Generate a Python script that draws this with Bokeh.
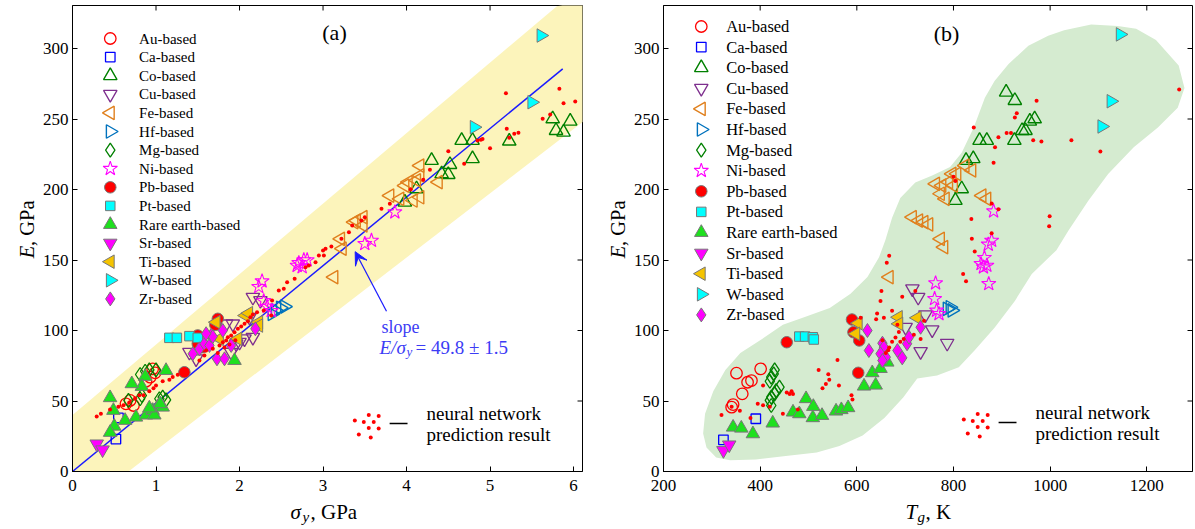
from math import pi
from bokeh.plotting import figure
from bokeh.layouts import row, column
from bokeh.models import Range1d, FixedTicker, Label, Arrow, VeeHead
from bokeh.core.properties import value
from bokeh.embed import file_html
from bokeh.resources import INLINE

SERIF = "Liberation Serif"
BLUE = "#1a1aff"
GRAY = "#777777"

# ---------------- panel (a): yield strength sigma_y (GPa) vs Young's modulus E (GPa)
au_sy = [0.96, 0.93, 0.64, 0.73, 0.69, 0.88, 0.99]
au_E_a = [72.8, 66.9, 48.0, 46.8, 50.4, 64.0, 70.0]
ca_sy = [0.55, 0.52]
ca_E_a = [38, 23]
co_sy = [4.66, 4.79, 4.79, 4.30, 4.52, 4.42, 4.50, 4.12, 3.98, 5.23, 5.75, 5.79, 5.88, 5.96]
co_E_a = [234.8, 234.8, 221.8, 220.6, 217.7, 211.1, 210.6, 200.5, 191, 234.3, 250.1, 241.8, 240.6, 248.4]
cu_sy = [2.16, 2.16, 1.92, 1.96, 2.00, 1.90, 1.40, 1.48, 2.06, 1.84, 2.12, 2.25]
cu_E_a = [123.6, 95.2, 104.7, 90.6, 91.7, 84.6, 84.6, 79.9, 94.1, 104.7, 109.4, 121.3]
fe_sy = [4.16, 4.16, 4.12, 4.02, 3.98, 3.80, 3.92, 4.08, 4.16, 4.38, 3.37, 3.40, 3.48, 3.48, 3.21, 3.23, 3.13]
fe_E_a = [217, 210, 206.4, 205.2, 202.8, 195.7, 193.4, 192.2, 194.5, 205.2, 176.8, 178, 180.4, 174.5, 165, 158, 137.8]
hf_sy = [2.39, 2.43, 2.49, 2.54]
hf_E_a = [111.8, 114.2, 116.1, 117.0]
mg_sy = [0.81, 0.87, 0.92, 1.00, 0.67, 0.81, 0.83, 1.04, 1.08, 1.12]
mg_E_a = [68.8, 71.1, 72.1, 72.1, 50.4, 51.6, 53.9, 51.6, 52.7, 50.8]
ni_sy = [2.27, 2.23, 2.29, 2.33, 2.38, 2.69, 2.71, 2.75, 2.77, 2.81, 3.50, 3.58, 3.86]
ni_E_a = [135, 131, 121, 117, 114, 146, 148, 145, 150, 150, 161.5, 163.8, 183.9]
pb_sy = [1.34, 1.50, 1.50, 1.56, 1.74, 1.71]
pb_E_a = [70.4, 96.5, 90.6, 88.2, 108.3, 104]
pt_sy = [1.16, 1.25, 1.40, 1.50]
pt_E_a = [94.8, 94.8, 96.0, 94.8]
re_sy = [0.45, 0.49, 0.50, 0.45, 0.63, 0.76, 0.88, 0.96, 1.02, 1.08, 1.12, 0.87, 0.83, 0.71, 1.94, 0.98, 1.05, 0.92]
re_E_a = [52.3, 43.3, 32.1, 27.7, 36.2, 38.5, 40, 43.3, 46, 45.6, 71.6, 67.4, 60.3, 62.2, 78.7, 40, 48, 45]
sr_sy = [0.29, 0.36]
sr_E_a = [19.6, 15.4]
ti_sy = [1.72, 1.76, 1.98, 2.07, 2.11, 2.23, 2.23]
ti_E_a = [105.9, 94.1, 94.1, 110.6, 112.3, 105.9, 103.5]
w_sy = [5.61, 5.50, 4.81]
w_E_a = [309.2, 261.9, 244.2]
zr_sy = [1.44, 1.52, 1.58, 1.64, 1.66, 1.73, 1.80, 1.82, 1.90, 2.19, 1.68, 1.60]
zr_E_a = [83.5, 87, 90.6, 89.4, 96.5, 79.9, 100, 79.9, 89.4, 101.2, 95.7, 97.7]
nn_sy = [0.29, 0.34, 0.45, 0.55, 0.61, 0.68, 0.75, 0.80, 0.85, 0.92, 0.97, 1.00, 1.08, 1.16, 1.20, 1.26,
         1.52, 1.58, 1.60, 1.68, 1.74, 1.76, 1.80, 1.82, 1.84, 1.86, 1.88, 1.90, 1.94, 1.95, 1.98, 2.02, 2.06,
         2.10, 2.13, 2.16, 2.21, 2.29, 2.38, 2.39,
         2.47, 2.53, 2.57, 2.66, 2.79, 2.83, 2.91, 2.95, 3.00, 3.01, 3.03, 3.10, 3.22, 3.31, 3.35, 3.46, 3.50,
         3.70, 3.80, 4.05, 4.20, 4.28,
         4.50, 4.69, 4.85, 4.89, 4.91, 5.00, 5.19, 5.20, 5.23, 5.29, 5.34, 5.63, 5.72, 5.83, 5.88, 6.02]
nn_E_a = [39, 41, 44, 46, 47, 49, 52, 54, 54, 57, 59, 61, 64, 65, 67, 68.6,
          78.7, 82.3, 85.8, 87, 84, 89.4, 91.7, 88, 92.9, 95.2, 90, 96.5, 98.8, 93, 101.2, 102.8, 104.7,
          106.6, 109.4, 111.3, 113, 114.2, 110.6, 121.3,
          128.4, 129.6, 134.3, 136.7, 144.9, 146.1, 148.4, 153.2, 156.7, 153.2, 157.9, 159.6, 165, 169.7, 174.5,
          178, 180.4, 186.3, 189.9, 200, 207, 214,
          227.2, 218.2, 234.8, 235.2, 235.9, 229.3, 268.3, 243, 236.7, 239.5, 240.2, 250.1, 253.2, 271.4, 261.2, 262.4]
band_sy = [0, 0, 5.80, 6.2, 6.2, 0.67]
band_E = [0, 40, 330, 335, 252, 0]
fit_sy = [0, 5.87]
fit_E = [0, 285.6]

# ---------------- panel (b): glass transition temperature Tg (K) vs E (GPa)
au_tg = [351, 401, 374, 382, 363, 344, 341]
au_E_b = [69.7, 72.8, 63.3, 64.5, 55.1, 47.5, 45.6]
ca_tg = [391, 324]
ca_E_b = [37.4, 22.5]
co_tg = [909, 927, 958, 968, 942, 949, 926, 854, 869, 826, 841, 804, 817]
co_E_b = [269, 263.1, 248.4, 250.1, 241.8, 241.8, 234.8, 234.8, 234.8, 220.6, 221.8, 192.2, 200.5]
cu_tg = [715, 727, 742, 756, 787, 732, 701]
cu_E_b = [129.6, 123.6, 111.1, 100.5, 91, 85.1, 102.3]
fe_tg = [715, 728, 739, 749, 773, 780, 763, 776, 790, 797, 807, 824, 838, 773, 783, 859, 869, 800, 667]
fe_E_b = [180.4, 178, 176.8, 175.2, 165, 159.1, 204, 202.8, 205.2, 211.1, 211.1, 217, 213.5, 197, 193.4,
          195.7, 193.4, 202.8, 137.8]
hf_tg = [787, 793, 797]
hf_E_b = [115.4, 116.5, 114.2]
mg_tg = [430, 428, 423, 420, 440, 433, 423, 420, 430, 423]
mg_E_b = [72.1, 69.3, 66.9, 64, 59.8, 57.4, 52.7, 50.4, 55.1, 46.8]
ni_tg = [883, 879, 872, 864, 857, 869, 862, 873, 763, 761, 765, 770]
ni_E_b = [184.6, 163.8, 161, 151.6, 147.3, 146.1, 144.9, 133.1, 133.6, 122.5, 114.2, 111.8]
pb_tg = [455, 590, 593, 605, 603]
pb_E_b = [91.7, 107.8, 98.8, 92.9, 70]
pt_tg = [481, 493, 509, 511]
pt_E_b = [95.7, 95.7, 95.2, 93.6]
re_tg = [344, 361, 385, 426, 468, 481, 495, 510, 509, 528, 557, 568, 582, 615, 639, 632, 649, 663]
re_E_b = [31.4, 30.7, 26.7, 34.3, 42.1, 40.9, 51.6, 46.1, 38.1, 39.7, 42.8, 43.8, 45.2, 60.5, 61.2, 70, 73, 77.5]
sr_tg = [324, 336]
sr_E_b = [14.9, 18.9]
ti_tg = [603, 598, 686, 687, 725]
ti_E_b = [105.2, 97.7, 109.4, 104.7, 109]
w_tg = [1145, 1126, 1107]
w_E_b = [310, 262.6, 244.7]
zr_tg = [622, 625, 653, 656, 649, 660, 653, 684, 694, 704, 708, 732]
zr_E_b = [100, 85.8, 91, 88.2, 83.5, 81.1, 78.7, 85.8, 80.6, 90.6, 95.2, 102.3]
nn_tg = [320, 341, 358, 380, 395, 406, 420, 406, 447, 455, 461, 465, 468, 478, 521, 541, 543, 529, 536, 560,
         563, 589, 591,
         608, 640, 642, 649, 651, 656, 660, 665, 667, 673, 680, 687, 684, 653, 690, 697, 673, 694, 718, 721,
         732, 739, 662, 667,
         800, 804, 820, 826, 837, 838, 842, 844, 879, 879, 883, 886, 893, 893, 910, 919, 927, 931, 965, 972,
         982, 998, 999, 1044, 1104, 1267]
nn_E_b = [40, 46, 43, 38, 48, 47, 46, 61, 41, 56, 55, 57, 55, 44, 72, 69, 65, 59, 62, 79, 61, 54, 51,
          109, 108, 112, 121, 128, 109, 84, 86, 88, 92, 95, 99, 104, 93, 92, 94, 114, 124, 97, 128, 94, 107,
          148, 153,
          209, 206, 140, 135, 179, 165, 244, 156, 169, 190, 219, 230, 186, 237, 240, 240, 251, 254, 235, 263,
          234, 174, 181, 235, 227, 271]
region_tg = [1140, 1085, 1029, 996, 955, 914, 885, 865, 842, 817, 793, 756, 721, 690, 673, 659, 646, 622, 587,
             544, 488, 447, 400, 359, 328, 303, 286, 282, 289, 309, 338, 391, 453, 517, 564, 612, 657, 696,
             725, 766, 811, 844, 885, 927, 962, 1013, 1038, 1079, 1120, 1173, 1223, 1264, 1278, 1266, 1219, 1178]
region_E = [316, 317, 313, 309, 302, 289, 277, 265, 244, 226, 216, 210, 205, 194, 180, 164, 152, 138, 126,
            116, 109, 104, 93, 84, 72, 57, 41, 27, 17, 10, 8, 8.5, 11, 13.5, 18, 25.5, 38, 52.5,
            66, 68, 74, 86, 102, 121, 140, 157, 171, 192, 211, 230, 244, 258, 272, 288, 306, 314]

groups = ["Au-based", "Ca-based", "Co-based", "Cu-based", "Fe-based", "Hf-based", "Mg-based", "Ni-based",
          "Pb-based", "Pt-based", "Rare earth-based", "Sr-based", "Ti-based", "W-based", "Zr-based"]
x_ticks_a = [0, 1, 2, 3, 4, 5, 6]
x_ticks_b = [200, 400, 600, 800, 1000, 1200]
y_ticks = [0, 50, 100, 150, 200, 250, 300]

data_a = {
    "Au-based": (au_sy, au_E_a), "Ca-based": (ca_sy, ca_E_a), "Co-based": (co_sy, co_E_a),
    "Cu-based": (cu_sy, cu_E_a), "Fe-based": (fe_sy, fe_E_a), "Hf-based": (hf_sy, hf_E_a),
    "Mg-based": (mg_sy, mg_E_a), "Ni-based": (ni_sy, ni_E_a), "Pb-based": (pb_sy, pb_E_a),
    "Pt-based": (pt_sy, pt_E_a), "Rare earth-based": (re_sy, re_E_a), "Sr-based": (sr_sy, sr_E_a),
    "Ti-based": (ti_sy, ti_E_a), "W-based": (w_sy, w_E_a), "Zr-based": (zr_sy, zr_E_a),
}
data_b = {
    "Au-based": (au_tg, au_E_b), "Ca-based": (ca_tg, ca_E_b), "Co-based": (co_tg, co_E_b),
    "Cu-based": (cu_tg, cu_E_b), "Fe-based": (fe_tg, fe_E_b), "Hf-based": (hf_tg, hf_E_b),
    "Mg-based": (mg_tg, mg_E_b), "Ni-based": (ni_tg, ni_E_b), "Pb-based": (pb_tg, pb_E_b),
    "Pt-based": (pt_tg, pt_E_b), "Rare earth-based": (re_tg, re_E_b), "Sr-based": (sr_tg, sr_E_b),
    "Ti-based": (ti_tg, ti_E_b), "W-based": (w_tg, w_E_b), "Zr-based": (zr_tg, zr_E_b),
}

STYLE = {
    "Au-based": dict(marker="circle", size=11.5, angle=0, line_color="#ff0000", fill_color=None, line_width=1.3),
    "Ca-based": dict(marker="square", size=9.5, angle=0, line_color="#0000ff", fill_color=None, line_width=1.3),
    "Co-based": dict(marker="triangle", size=13.5, angle=0, line_color="#008000", fill_color=None, line_width=1.4),
    "Cu-based": dict(marker="inverted_triangle", size=13.5, angle=0, line_color="#7e2f8e", fill_color=None, line_width=1.3),
    "Fe-based": dict(marker="triangle", size=13.5, angle=pi / 2, line_color="#e0801e", fill_color=None, line_width=1.4),
    "Hf-based": dict(marker="triangle", size=13.5, angle=-pi / 2, line_color="#0072bd", fill_color=None, line_width=1.4),
    "Mg-based": dict(marker="diamond", size=14, angle=0, line_color="#008000", fill_color=None, line_width=1.3),
    "Ni-based": dict(marker="star", size=15, angle=0, line_color="#ff00ff", fill_color=None, line_width=1.1),
    "Pb-based": dict(marker="circle", size=11.5, angle=0, line_color=GRAY, fill_color="#ff0000", line_width=1),
    "Pt-based": dict(marker="square", size=9.5, angle=0, line_color=GRAY, fill_color="#00ffff", line_width=1),
    "Rare earth-based": dict(marker="triangle", size=13.5, angle=0, line_color=GRAY, fill_color="#1ee01e", line_width=1),
    "Sr-based": dict(marker="inverted_triangle", size=13.5, angle=0, line_color=GRAY, fill_color="#ff00ff", line_width=1),
    "Ti-based": dict(marker="triangle", size=13.5, angle=pi / 2, line_color=GRAY, fill_color="#f5c400", line_width=1),
    "W-based": dict(marker="triangle", size=13.5, angle=-pi / 2, line_color=GRAY, fill_color="#00ffff", line_width=1),
    "Zr-based": dict(marker="diamond", size=14, angle=0, line_color=GRAY, fill_color="#ff00ff", line_width=1),
}

# page geometry (the page is drawn from its top-left corner)
PLOT_H = 498
STRIP_H = 31
FRAME_A = dict(left=69, right=582, top=5, bottom=471, x0=0.0, x1=6.107, y0=0.0, y1=330.5)
FRAME_B = dict(left=660, right=1192, top=5, bottom=471, x0=200.0, x1=1294.6, y0=0.0, y1=330.5)


def to_data(fr, px, py):
    x = fr["x0"] + (px - fr["left"]) / (fr["right"] - fr["left"]) * (fr["x1"] - fr["x0"])
    y = fr["y0"] + (fr["bottom"] - py) / (fr["bottom"] - fr["top"]) * (fr["y1"] - fr["y0"])
    return x, y


def style_axis(ax):
    ax.major_tick_in = 5
    ax.major_tick_out = 0
    ax.minor_tick_in = 0
    ax.minor_tick_out = 0
    ax.axis_line_color = "black"
    ax.major_tick_line_color = "black"
    ax.major_label_text_font = SERIF
    ax.major_label_text_color = "black"
    ax.major_label_text_font_size = "17px"


def make_fig(x_left, fr, xticks):
    width = fr["right"] + (8 if fr is FRAME_A else 3) - x_left
    p = figure(width=width, height=PLOT_H, x_range=Range1d(fr["x0"], fr["x1"]),
               y_range=Range1d(fr["y0"], fr["y1"]), output_backend="svg", toolbar_location=None,
               min_border_left=fr["left"] - x_left, min_border_right=width - (fr["right"] - x_left),
               min_border_top=fr["top"], min_border_bottom=PLOT_H - fr["bottom"])
    p.xgrid.visible = False
    p.ygrid.visible = False
    p.outline_line_color = "black"
    p.outline_line_alpha = 1
    p.background_fill_color = "white"
    p.border_fill_color = "white"
    p.xaxis.ticker = FixedTicker(ticks=xticks)
    p.yaxis.ticker = FixedTicker(ticks=y_ticks)
    style_axis(p.xaxis[0])
    style_axis(p.yaxis[0])
    p.xaxis.major_label_standoff = 8
    p.yaxis.major_label_standoff = 4
    # mirrored inward ticks on the top and right frame edges
    dy = 5 * (fr["y1"] - fr["y0"]) / (fr["bottom"] - fr["top"])
    dx = 5 * (fr["x1"] - fr["x0"]) / (fr["right"] - fr["left"])
    p.segment(x0=xticks, y0=[fr["y1"]] * len(xticks), x1=xticks, y1=[fr["y1"] - dy] * len(xticks),
              line_color="black", line_width=1)
    p.segment(x0=[fr["x1"]] * len(y_ticks), y0=y_ticks, x1=[fr["x1"] - dx] * len(y_ticks), y1=y_ticks,
              line_color="black", line_width=1)
    return p


def make_strip(width, height):
    s = figure(width=width, height=height, x_range=Range1d(0, width), y_range=Range1d(0, height),
               output_backend="svg", toolbar_location=None, x_axis_type=None, y_axis_type=None,
               min_border=0, min_border_left=0, min_border_right=0, min_border_top=0, min_border_bottom=0)
    s.xgrid.visible = False
    s.ygrid.visible = False
    s.outline_line_color = None
    s.background_fill_color = "white"
    s.border_fill_color = "white"
    return s


def strip_text(s, left, top, px, py, text, size, style="normal", angle=0.0):
    s.text([px - left], [s.height - (py - top)], text=[text], text_font=value(SERIF),
           text_font_size=f"{size}px", text_font_style=style, text_baseline="middle",
           text_align="left", angle=angle, text_color="black")


def add_label(p, fr, px, py, text, size, style="normal", align="left", color="black"):
    p.add_layout(Label(x=px - fr["left"], y=fr["bottom"] - py, x_units="screen", y_units="screen",
                       text=text, text_font=SERIF, text_font_size=f"{size}px", text_font_style=style,
                       text_align=align, text_baseline="middle", text_color=color))


def draw_groups(p, data):
    for g in groups:
        xs, ys = data[g]
        p.scatter(xs, ys, **STYLE[g])


def draw_legend(p, fr, mx, tx, y0, dy, fsize):
    for i, g in enumerate(groups):
        py = y0 + i * dy
        x, y = to_data(fr, mx, py)
        p.scatter([x], [y], **STYLE[g])
        xt, yt = to_data(fr, tx, py)
        p.text([xt], [yt], text=[g], text_font=value(SERIF), text_font_size=f"{fsize}px",
               text_baseline="middle", text_align="left", text_color="black")


# legend key for the network predictions: pixel offsets of the dot cluster from the text start
KEY_DX = [-70, -61, -56, -51, -46, -56, -46, -66, -54]
KEY_DY = [7, 8.5, 1.5, 8.5, 2.5, 14.5, 15, 21, 24]


def draw_nn_key(p, fr, tx, ty):
    xs, ys = [], []
    for dx, dy in zip(KEY_DX, KEY_DY):
        x, y = to_data(fr, tx + dx, ty + dy)
        xs.append(x)
        ys.append(y)
    p.scatter(xs, ys, marker="circle", size=4, fill_color="#ff0000", line_color=None)
    xa, ya = to_data(fr, tx - 35, ty + 10)
    xb, yb = to_data(fr, tx - 17, ty + 10)
    p.line([xa, xb], [ya, yb], line_color="black", line_width=1.5)
    add_label(p, fr, tx, ty, "neural network", 19)
    add_label(p, fr, tx, ty + 20.5, "prediction result", 19)


# ---------------- panel (a)
YLAB_A = (0, 39)        # left, right of the y-title strip
YLAB_B = (590, 630)
pa = make_fig(YLAB_A[1], FRAME_A, x_ticks_a)
pa.patch(band_sy, band_E, fill_color="#fcf4bb", line_color=None)
pa.line(fit_sy, fit_E, line_color=BLUE, line_width=1.5)
draw_groups(pa, data_a)
pa.scatter(nn_sy, nn_E_a, marker="circle", size=4, fill_color="#ff0000", line_color=None)
draw_legend(pa, FRAME_A, 107, 136, 38, 18.6, 15)
draw_nn_key(pa, FRAME_A, 423, 413)
pa.add_layout(Arrow(end=VeeHead(size=13, fill_color=BLUE, line_color=BLUE),
                    x_start=3.76, y_start=113.7, x_end=3.385, y_end=155.9,
                    line_color=BLUE, line_width=1.2))
add_label(pa, FRAME_A, 378, 326, "slope", 18, color="#3c3cf5")
add_label(pa, FRAME_A, 376, 347, "E/σ", 19, style="italic", color="#3c3cf5")
add_label(pa, FRAME_A, 403, 351, "y", 13, style="italic", color="#3c3cf5")
add_label(pa, FRAME_A, 412, 347, " = 49.8 ± 1.5", 19, color="#3c3cf5")
add_label(pa, FRAME_A, 331, 32, "(a)", 22, align="center")

# ---------------- panel (b)
pb = make_fig(YLAB_B[1], FRAME_B, x_ticks_b)
pb.patch(region_tg, region_E, fill_color="#d5ebd0", line_color=None)
draw_groups(pb, data_b)
pb.scatter(nn_tg, nn_E_b, marker="circle", size=4, fill_color="#ff0000", line_color=None)
draw_legend(pb, FRAME_B, 698, 723, 26, 20.6, 16.5)
draw_nn_key(pb, FRAME_B, 1032, 412)
add_label(pb, FRAME_B, 943, 33, "(b)", 22, align="center")

# ---------------- axis titles in strips
ya = make_strip(YLAB_A[1] - YLAB_A[0], PLOT_H)
strip_text(ya, YLAB_A[0], 0, 26.5, 270, "E", 20.5, style="italic", angle=pi / 2)
strip_text(ya, YLAB_A[0], 0, 26.5, 257, ", GPa", 20.5, angle=pi / 2)
yb = make_strip(YLAB_B[1] - YLAB_B[0], PLOT_H)
strip_text(yb, YLAB_B[0], 0, 617.5, 270, "E", 20.5, style="italic", angle=pi / 2)
strip_text(yb, YLAB_B[0], 0, 617.5, 257, ", GPa", 20.5, angle=pi / 2)

xa = make_strip(YLAB_A[1] + pa.width - YLAB_A[0], STRIP_H)
strip_text(xa, 0, PLOT_H, 290, 511, "σ", 21, style="italic")
strip_text(xa, 0, PLOT_H, 302, 516, "y", 15, style="italic")
strip_text(xa, 0, PLOT_H, 310, 511, ", GPa", 21)
xb = make_strip(YLAB_B[1] - YLAB_B[0] + pb.width, STRIP_H)
strip_text(xb, YLAB_B[0], PLOT_H, 905, 511, "T", 21, style="italic")
strip_text(xb, YLAB_B[0], PLOT_H, 917, 516, "g", 15, style="italic")
strip_text(xb, YLAB_B[0], PLOT_H, 925, 511, ", K", 21)

layout = row(column(row(ya, pa), xa), column(row(yb, pb), xb))
open("out.html", "w").write(file_html(layout, INLINE))
